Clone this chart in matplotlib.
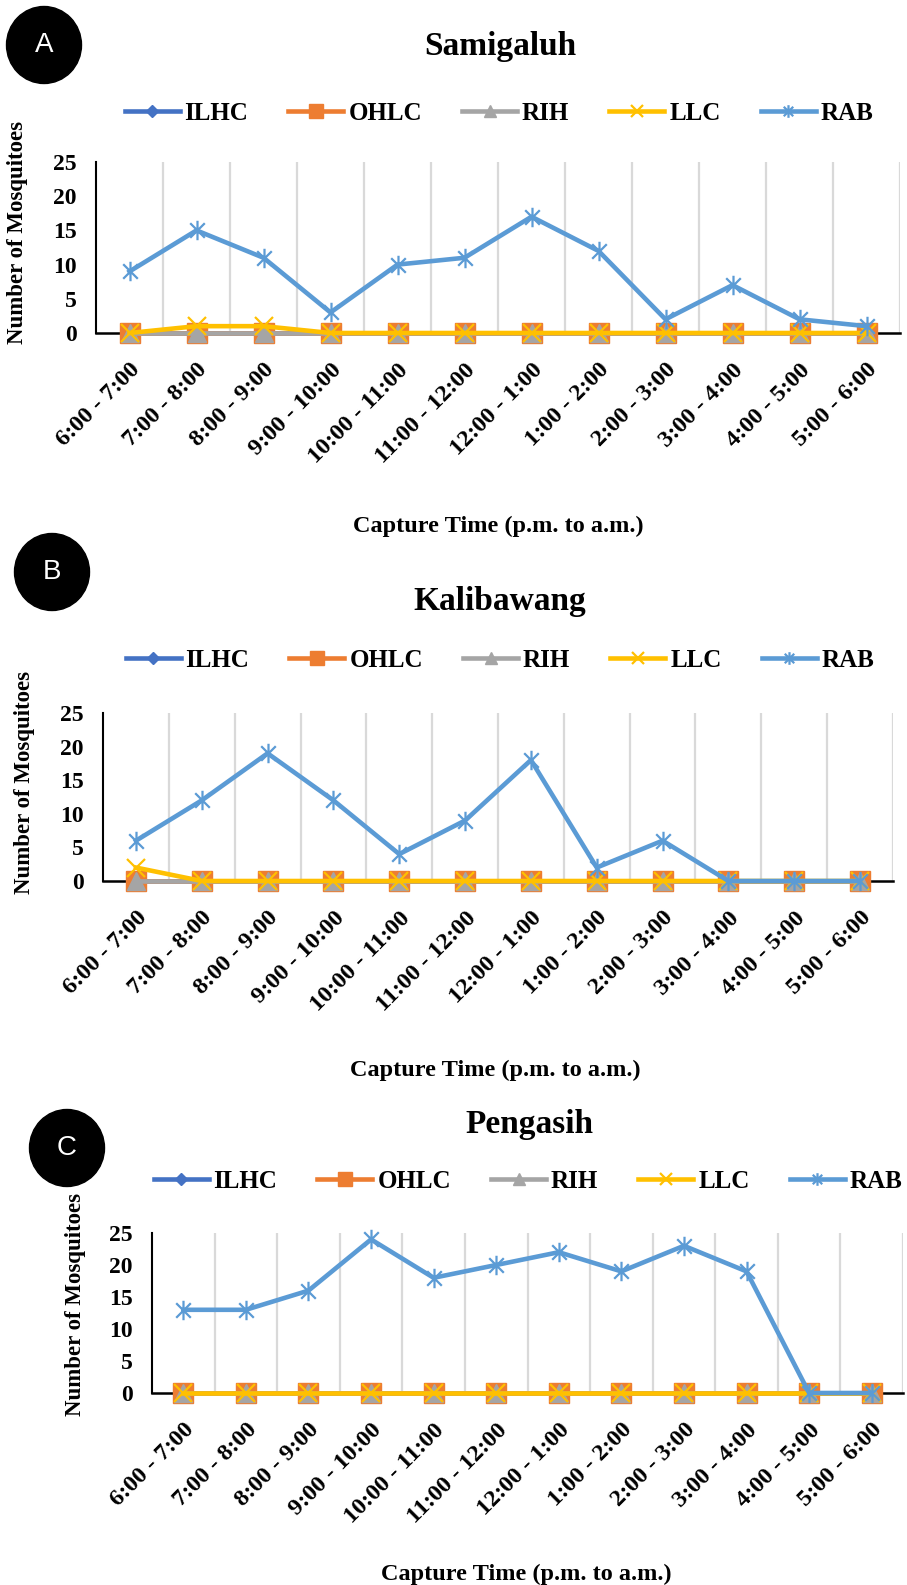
import matplotlib
matplotlib.use("Agg")
import matplotlib.pyplot as plt
import numpy as np
from matplotlib.path import Path
from matplotlib.patches import Ellipse

plt.rcParams['font.family'] = ['Liberation Serif', 'DejaVu Serif']

times = ["6:00 - 7:00", "7:00 - 8:00", "8:00 - 9:00", "9:00 - 10:00",
         "10:00 - 11:00", "11:00 - 12:00", "12:00 - 1:00", "1:00 - 2:00",
         "2:00 - 3:00", "3:00 - 4:00", "4:00 - 5:00", "5:00 - 6:00"]
series = ["ILHC", "OHLC", "RIH", "LLC", "RAB"]

# Samigaluh
a_ilhc = [0, 0, 0, 0, 0, 0, 0, 0, 0, 0, 0, 0]
a_ohlc = [0, 0, 0, 0, 0, 0, 0, 0, 0, 0, 0, 0]
a_rih = [0, 0, 0, 0, 0, 0, 0, 0, 0, 0, 0, 0]
a_llc = [0, 1, 1, 0, 0, 0, 0, 0, 0, 0, 0, 0]
a_rab = [9, 15, 11, 3, 10, 11, 17, 12, 2, 7, 2, 1]

# Kalibawang
b_ilhc = [0, 0, 0, 0, 0, 0, 0, 0, 0, 0, 0, 0]
b_ohlc = [0, 0, 0, 0, 0, 0, 0, 0, 0, 0, 0, 0]
b_rih = [0, 0, 0, 0, 0, 0, 0, 0, 0, 0, 0, 0]
b_llc = [2, 0, 0, 0, 0, 0, 0, 0, 0, 0, 0, 0]
b_rab = [6, 12, 19, 12, 4, 9, 18, 2, 6, 0, 0, 0]

# Pengasih
c_ilhc = [0, 0, 0, 0, 0, 0, 0, 0, 0, 0, 0, 0]
c_ohlc = [0, 0, 0, 0, 0, 0, 0, 0, 0, 0, 0, 0]
c_rih = [0, 0, 0, 0, 0, 0, 0, 0, 0, 0, 0, 0]
c_llc = [0, 0, 0, 0, 0, 0, 0, 0, 0, 0, 0, 0]
c_rab = [13, 13, 16, 24, 18, 20, 22, 19, 23, 19, 0, 0]

W, H = 907, 1585
fig = plt.figure(figsize=(W / 100, H / 100), dpi=100)

asterisk = Path([(0, -1), (0, 1), (-0.75, -0.75), (0.75, 0.75), (-0.75, 0.75), (0.75, -0.75)],
                [Path.MOVETO, Path.LINETO, Path.MOVETO, Path.LINETO, Path.MOVETO, Path.LINETO])

styles = [
    dict(color='#4472C4', marker='D', ms=10),
    dict(color='#ED7D31', marker='s', ms=14.5),
    dict(color='#A5A5A5', marker='^', ms=13),
    dict(color='#FFC000', marker='x', ms=13, mew=1.6),
    dict(color='#5B9BD5', marker=asterisk, ms=14, mew=1.6),
]

bold = dict(fontweight='bold')


def fx(x):
    return x / W


def fy(y):
    return 1 - y / H


def panel(data, letter, circ, title, tpos, lpos, box, xlab, ylab):
    left, right, top, bottom = box
    ax = fig.add_axes([fx(left), fy(bottom), (right - left) / W, (bottom - top) / H])
    x = np.arange(len(times))
    for name, vals, st in zip(series, data, styles):
        ax.plot(x, vals, label=name, lw=3.3, clip_on=False, **st)
    ax.set_xlim(-0.5, 11.5)
    ax.set_ylim(0, 25)
    ax.set_yticks([0, 5, 10, 15, 20, 25])
    ax.set_xticks(x)
    ax.set_xticks(np.arange(0.5, 12, 1), minor=True)
    ax.grid(which='minor', axis='x', color='#D9D9D9', lw=1.6)
    ax.set_axisbelow(True)
    ax.tick_params(which='both', length=0)
    ax.tick_params(axis='y', labelsize=17, pad=14)
    ax.set_xticklabels(times, rotation=45, ha='right', rotation_mode='anchor',
                       fontsize=17.5, fontweight='bold')
    ax.tick_params(axis='x', pad=19)
    for lb in ax.get_yticklabels():
        lb.set_fontweight('bold')
    for s in ['top', 'right']:
        ax.spines[s].set_visible(False)
    ax.spines['left'].set_linewidth(1.5)
    ax.spines['bottom'].set_linewidth(1.8)
    ax.spines['bottom'].set_zorder(1)

    ax.legend(loc='center', bbox_to_anchor=(fx(lpos[0]), fy(lpos[1])),
              bbox_transform=fig.transFigure, ncol=5, frameon=False,
              prop=dict(size=18, weight='bold'), handlelength=2.2,
              handletextpad=0.2, columnspacing=1.6, markerscale=0.65)

    fig.text(fx(tpos[0]), fy(tpos[1]), title, ha='center', va='center',
             fontsize=24, **bold)
    fig.text(fx(xlab[0]), fy(xlab[1]), "Capture Time (p.m. to a.m.)",
             ha='center', va='center', fontsize=17.5, **bold)
    fig.text(fx(ylab[0]), fy(ylab[1]), "Number of Mosquitoes", rotation=90,
             ha='center', va='center', fontsize=16.5, **bold)

    fig.add_artist(Ellipse((fx(circ[0]), fy(circ[1])), 75 / W, 77 / H,
                           transform=fig.transFigure, color='black'))
    fig.text(fx(circ[0]), fy(circ[1]), letter, ha='center', va='center',
             color='white', fontsize=20, family='Liberation Sans')


panel([a_ilhc, a_ohlc, a_rih, a_llc, a_rab], "A", (44, 45), "Samigaluh", (500, 47),
      (499, 113), (96, 900, 162, 333), (498, 526), (18, 232))
panel([b_ilhc, b_ohlc, b_rih, b_llc, b_rab], "B", (52, 572), "Kalibawang", (500, 602),
      (500, 660), (103, 893, 713, 881), (495, 1070), (25, 783))
panel([c_ilhc, c_ohlc, c_rih, c_llc, c_rab], "C", (67, 1148), "Pengasih", (529, 1125),
      (528, 1181), (152, 903, 1233, 1393), (526, 1574), (75, 1304))

fig.savefig("out.png", dpi=100)
